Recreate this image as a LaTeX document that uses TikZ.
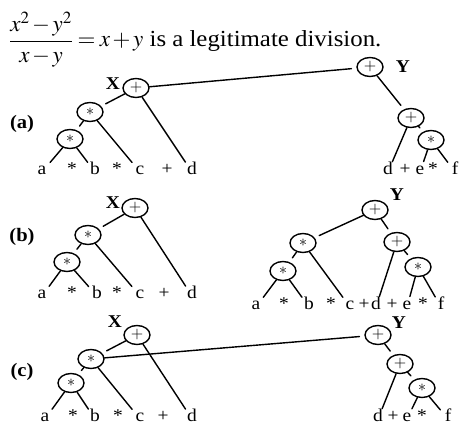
\documentclass[tikz,border=0pt]{standalone}
\usepackage{mathptmx}
\usepackage{fontspec}
\setmainfont{Liberation Serif}[FakeStretch=1.08]
\usetikzlibrary{shapes.geometric}
\tikzset{
    tree/.style={x=1pt, y=-1pt, line cap=round, line join=round},
    op/.style={draw, ellipse, line width=1.4pt, fill=white,
               minimum width=26pt, minimum height=19pt, inner sep=0pt,
               font=\fontsize{16}{16}\selectfont},
    leaf/.style={inner sep=1pt, text height=0.7em, text depth=0.2em,
                 font=\fontsize{18}{18}\selectfont},
    rootlabel/.style={font=\fontsize{18}{18}\selectfont\bfseries, inner sep=0pt},
    partlabel/.style={font=\fontsize{19}{19}\selectfont\bfseries, inner sep=0pt},
    link/.style={line width=1.4pt, shorten >=5pt},
}

\begin{document}
\begin{tikzpicture}[tree]
\useasboundingbox (0,0) rectangle (462,427);

% ─── Titre ──────────────────────────────────────────────────────────────
\node[anchor=base west, inner sep=0pt, font=\fontsize{23}{23}\selectfont] (title) at (9,47)
    {\thickmuskip=3.5mu \medmuskip=2mu
     $\displaystyle\frac{x^2-y^2}{x-y}=x+y$ is a legitimate division.};

% ─── (a) ────────────────────────────────────────────────────────────────
\node[partlabel] (parta) at (22,124) {(a)};
\node[op] (xa)  at (136,88)  {$+$};
\node[op] (sa1) at (90,112)  {$*$};
\node[op] (sa2) at (70,139)  {$*$};
\node[rootlabel] (xlabela) at (113,84) {X};
\foreach \x/\t/\n in {42/a/a,72/*/s1,95/b/b,117/*/s2,140/c/c,167/+/p,192/d/d}{
    \node[leaf] (la-\n) at (\x,172) {\t};
}
\node[op] (ya)  at (370,67)  {$+$};
\node[op] (pa)  at (411,118) {$+$};
\node[op] (sa3) at (431,140) {$*$};
\node[rootlabel] (ylabela) at (403,67) {Y};
\foreach \x/\t/\n in {388/d/d,405/+/p,420/e/e,433/*/s,455/f/f}{
    \node[leaf] (ra-\n) at (\x,172) {\t};
}
\draw[link] (xa) -- (sa1);
\draw[link] (sa1) -- (sa2);
\draw[link] (sa2) -- (la-a);
\draw[link] (sa2) -- (la-b);
\draw[link] (sa1) -- (la-c);
\draw[link] (xa) -- (la-d);
\draw[link] (xa) -- (ya);
\draw[link] (ya) -- (pa);
\draw[link] (pa) -- (ra-d);
\draw[link] (pa) -- (sa3);
\draw[link] (sa3) -- (ra-e);
\draw[link] (sa3) -- (ra-f);

% ─── (b) ────────────────────────────────────────────────────────────────
\node[partlabel] (partb) at (22,237) {(b)};
\node[op] (xb)  at (135,208) {$+$};
\node[op] (sb1) at (88,235)  {$*$};
\node[op] (sb2) at (67,262)  {$*$};
\node[rootlabel] (xlabelb) at (113,203) {X};
\foreach \x/\t/\n in {42/a/a,72/*/s1,97/b/b,117/*/s2,140/c/c,164/+/p,192/d/d}{
    \node[leaf] (lb-\n) at (\x,296) {\t};
}
\node[op] (yb)  at (375,210) {$+$};
\node[op] (tb1) at (303,243) {$*$};
\node[op] (tb2) at (283,271) {$*$};
\node[op] (pb)  at (397,242) {$+$};
\node[op] (tb3) at (418,267) {$*$};
\node[rootlabel] (ylabelb) at (397,195) {Y};
\foreach \x/\t/\n in {256/a/a,284/*/s1,309/b/b,331/*/s2,350/c/c,364/+/p1,
                      376/d/d,392/+/p2,407/e/e,423/*/s3,441/f/f}{
    \node[leaf] (rb-\n) at (\x,307) {\t};
}
\draw[link] (xb) -- (sb1);
\draw[link] (sb1) -- (sb2);
\draw[link] (sb2) -- (lb-a);
\draw[link] (sb2) -- (lb-b);
\draw[link] (sb1) -- (lb-c);
\draw[link] (xb) -- (lb-d);
\draw[link] (yb) -- (tb1);
\draw[link] (yb) -- (pb);
\draw[link] (tb1) -- (tb2);
\draw[link] (tb2) -- (rb-a);
\draw[link] (tb2) -- (rb-b);
\draw[link] (tb1) -- (rb-c);
\draw[link] (pb) -- (rb-d);
\draw[link] (pb) -- (tb3);
\draw[link] (tb3) -- (rb-e);
\draw[link] (tb3) -- (rb-f);

% ─── (c) ────────────────────────────────────────────────────────────────
\node[partlabel] (partc) at (22,372) {(c)};
\node[op] (xc)  at (137,335) {$+$};
\node[op] (sc1) at (91,359)  {$*$};
\node[op] (sc2) at (71,383)  {$*$};
\node[rootlabel] (xlabelc) at (115,322) {X};
\foreach \x/\t/\n in {45/a/a,73/*/s1,95/b/b,118/*/s2,140/c/c,163/+/p,192/d/d}{
    \node[leaf] (lc-\n) at (\x,419) {\t};
}
\node[op] (yc)  at (378,335) {$+$};
\node[op] (pc)  at (400,364) {$+$};
\node[op] (sc3) at (422,388) {$*$};
\node[rootlabel] (ylabelc) at (399,323) {Y};
\foreach \x/\t/\n in {378/d/d,393/+/p,407/e/e,422/*/s,448/f/f}{
    \node[leaf] (rc-\n) at (\x,419) {\t};
}
\draw[link] (xc) -- (sc1);
\draw[link] (sc1) -- (sc2);
\draw[link] (sc2) -- (lc-a);
\draw[link] (sc2) -- (lc-b);
\draw[link] (sc1) -- (lc-c);
\draw[link] (xc) -- (lc-d);
\draw[link] (sc1) -- (yc);
\draw[link] (yc) -- (pc);
\draw[link] (pc) -- (rc-d);
\draw[link] (pc) -- (sc3);
\draw[link] (sc3) -- (rc-e);
\draw[link] (sc3) -- (rc-f);

\end{tikzpicture}
\end{document}
